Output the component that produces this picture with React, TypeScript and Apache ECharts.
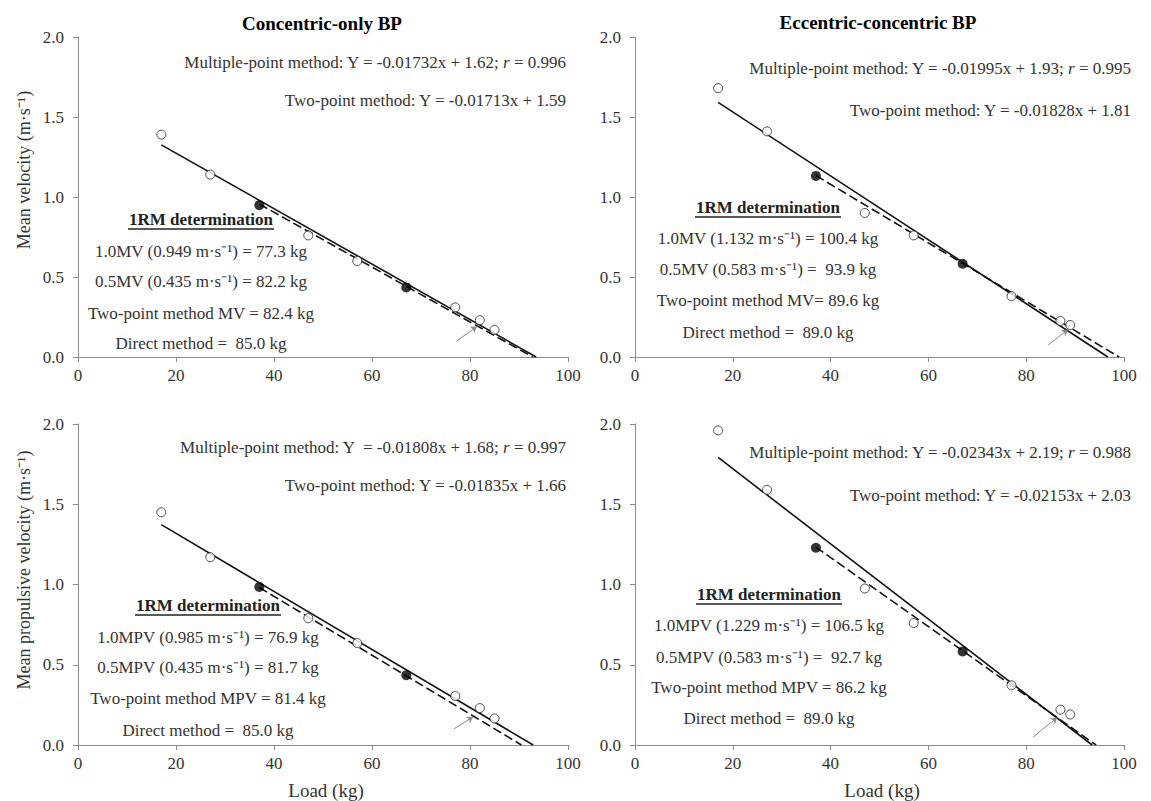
import React, { useEffect, useRef } from "react";
import * as echarts from "echarts";

// ---------- data ----------
const panelTitles = ["Concentric-only BP", "Eccentric-concentric BP"];
const yAxisNames = ["Mean velocity (m·s⁻¹)", "Mean propulsive velocity (m·s⁻¹)"];
const xAxisName = "Load (kg)";

// Concentric-only, mean velocity
const openTL = [[17, 1.39], [27, 1.14], [47, 0.76], [57, 0.6], [77, 0.31], [82, 0.23], [85, 0.17]];
const filledTL = [[37, 0.949], [67, 0.435]];
const fitTL = [[17, 1.326], [93.5, 0]];
const twoPtTL = [[37, 0.956], [92.8, 0]];
const arrowTL = [[77.3, 0.1], [81.4, 0.19]];

// Eccentric-concentric, mean velocity
const openTR = [[17, 1.68], [27, 1.41], [47, 0.9], [57, 0.76], [77, 0.38], [87, 0.225], [89, 0.2]];
const filledTR = [[37, 1.132], [67, 0.583]];
const fitTR = [[17, 1.591], [96.7, 0]];
const twoPtTR = [[37, 1.134], [99.0, 0]];
const arrowTR = [[84.5, 0.075], [88.5, 0.17]];

// Concentric-only, mean propulsive velocity
const openBL = [[17, 1.45], [27, 1.17], [47, 0.79], [57, 0.635], [77, 0.305], [82, 0.23], [85, 0.165]];
const filledBL = [[37, 0.985], [67, 0.435]];
const fitBL = [[17, 1.373], [92.9, 0]];
const twoPtBL = [[37, 0.981], [90.5, 0]];
const arrowBL = [[76.7, 0.1], [80.6, 0.175]];

// Eccentric-concentric, mean propulsive velocity
const openBR = [[17, 1.96], [27, 1.59], [47, 0.975], [57, 0.76], [77, 0.372], [87, 0.22], [89, 0.19]];
const filledBR = [[37, 1.229], [67, 0.583]];
const fitBR = [[17, 1.792], [93.5, 0]];
const twoPtBR = [[37, 1.233], [94.3, 0]];
const arrowBR = [[81.4, 0.05], [86.3, 0.17]];

// annotation texts
const multiEqs = [
  ["Multiple-point method: Y = -0.01732x + 1.62; ", "0.996"],
  ["Multiple-point method: Y = -0.01995x + 1.93; ", "0.995"],
  ["Multiple-point method: Y  = -0.01808x + 1.68; ", "0.997"],
  ["Multiple-point method: Y = -0.02343x + 2.19; ", "0.988"],
];
const twoEqs = [
  "Two-point method: Y = -0.01713x + 1.59",
  "Two-point method: Y = -0.01828x + 1.81",
  "Two-point method: Y = -0.01835x + 1.66",
  "Two-point method: Y = -0.02153x + 2.03",
];
const rmHeading = "1RM determination";
const rmLines = [
  ["1.0MV (0.949 m·s⁻¹) = 77.3 kg", "0.5MV (0.435 m·s⁻¹) = 82.2 kg", "Two-point method MV = 82.4 kg", "Direct method =  85.0 kg"],
  ["1.0MV (1.132 m·s⁻¹) = 100.4 kg", "0.5MV (0.583 m·s⁻¹) =  93.9 kg", "Two-point method MV= 89.6 kg", "Direct method =  89.0 kg"],
  ["1.0MPV (0.985 m·s⁻¹) = 76.9 kg", "0.5MPV (0.435 m·s⁻¹) = 81.7 kg", "Two-point method MPV = 81.4 kg", "Direct method =  85.0 kg"],
  ["1.0MPV (1.229 m·s⁻¹) = 106.5 kg", "0.5MPV (0.583 m·s⁻¹) =  92.7 kg", "Two-point method MPV = 86.2 kg", "Direct method =  89.0 kg"],
];

const panels = [
  { open: openTL, filled: filledTL, fit: fitTL, two: twoPtTL, arrow: arrowTL },
  { open: openTR, filled: filledTR, fit: fitTR, two: twoPtTR, arrow: arrowTR },
  { open: openBL, filled: filledBL, fit: fitBL, two: twoPtBL, arrow: arrowBL },
  { open: openBR, filled: filledBR, fit: fitBR, two: twoPtBR, arrow: arrowBR },
];

// ---------- layout ----------
const FONT = '"Liberation Serif", "Times New Roman", serif';
const TEXT = "#333333";
const AXIS = "#8c8c8c";
const FS = 17;

const GRIDS = [
  { left: 78, top: 37, width: 490, height: 320 },
  { left: 635, top: 37, width: 489, height: 320 },
  { left: 78, top: 424, width: 490, height: 321 },
  { left: 635, top: 424, width: 489, height: 321 },
];
const ANN = [
  { eqX: 566, multiY: 62, twoY: 100, cx: 201, headY: 219, lineYs: [251, 281, 313, 343] },
  { eqX: 1131, multiY: 68, twoY: 110, cx: 768, headY: 207, lineYs: [238, 269, 300, 332] },
  { eqX: 566, multiY: 447, twoY: 485, cx: 208, headY: 605, lineYs: [637, 667, 698, 730] },
  { eqX: 1131, multiY: 452, twoY: 495, cx: 769, headY: 594, lineYs: [625, 657, 687, 718] },
];

function txt(x: number, y: number, text: string, opts: any = {}) {
  const align = opts.align || "center";
  return {
    type: "text",
    x,
    y,
    rotation: opts.rotation || 0,
    silent: true,
    style: {
      text,
      fill: opts.fill || TEXT,
      fontFamily: FONT,
      fontSize: opts.fontSize || FS,
      fontWeight: opts.fontWeight || "normal",
      textAlign: align,
      align,
      textVerticalAlign: "middle",
      verticalAlign: "middle",
      rich: opts.rich,
    },
  };
}

export default function App() {
  const ref = useRef<HTMLDivElement>(null);
  useEffect(() => {
    if (!ref.current) return;
    const chart = echarts.init(ref.current, undefined, { renderer: "svg" });

    const xAxis = GRIDS.map((_, i) => ({
      type: "value",
      gridIndex: i,
      min: 0,
      max: 100,
      interval: 20,
      axisLine: { show: true, lineStyle: { color: AXIS, width: 1 } },
      axisTick: { show: true, length: 5, lineStyle: { color: AXIS } },
      axisLabel: { color: TEXT, fontSize: FS, fontFamily: FONT, margin: 10 },
      splitLine: { show: false },
    }));
    const yAxis = GRIDS.map((_, i) => ({
      type: "value",
      gridIndex: i,
      min: 0,
      max: 2,
      interval: 0.5,
      axisLine: { show: true, lineStyle: { color: AXIS, width: 1 } },
      axisTick: { show: true, length: 5, lineStyle: { color: AXIS } },
      axisLabel: {
        color: TEXT,
        fontSize: FS,
        fontFamily: FONT,
        margin: 14,
        formatter: (v: number) => v.toFixed(1),
      },
      splitLine: { show: false },
    }));

    const series: any[] = [];
    panels.forEach((p, i) => {
      series.push({
        type: "line",
        xAxisIndex: i,
        yAxisIndex: i,
        data: p.fit,
        symbol: "none",
        lineStyle: { color: "#111", width: 1.6 },
        z: 2,
      });
      series.push({
        type: "line",
        xAxisIndex: i,
        yAxisIndex: i,
        data: p.two,
        symbol: "none",
        lineStyle: { color: "#111", width: 1.6, type: [9, 4] },
        z: 2,
      });
      series.push({
        type: "lines",
        coordinateSystem: "cartesian2d",
        xAxisIndex: i,
        yAxisIndex: i,
        symbol: ["none", "arrow"],
        symbolSize: 6,
        lineStyle: { color: "#8a8a8a", width: 1, opacity: 1 },
        itemStyle: { color: "#222" },
        data: [{ coords: p.arrow }],
        z: 3,
      });
      series.push({
        type: "scatter",
        xAxisIndex: i,
        yAxisIndex: i,
        data: p.open,
        symbol: "circle",
        symbolSize: 9,
        itemStyle: { color: "#fff", borderColor: "#222", borderWidth: 1 },
        z: 4,
      });
      series.push({
        type: "scatter",
        xAxisIndex: i,
        yAxisIndex: i,
        data: p.filled,
        symbol: "circle",
        symbolSize: 10,
        itemStyle: { color: "#000" },
        z: 5,
      });
    });

    const graphic: any[] = [];
    graphic.push(txt(322, 23, panelTitles[0], { fontWeight: "bold", fill: "#000", fontSize: 19 }));
    graphic.push(txt(878, 22, panelTitles[1], { fontWeight: "bold", fill: "#000", fontSize: 19 }));
    graphic.push(txt(24, 170, yAxisNames[0], { rotation: Math.PI / 2, fontSize: 18 }));
    graphic.push(txt(24, 570, yAxisNames[1], { rotation: Math.PI / 2, fontSize: 18 }));
    graphic.push(txt(326, 790, xAxisName, { fontSize: 19 }));
    graphic.push(txt(882, 790, xAxisName, { fontSize: 19 }));

    ANN.forEach((a, i) => {
      const rich = {
        a: { fontFamily: FONT, fontSize: FS, fill: TEXT },
        i: { fontFamily: FONT, fontSize: FS, fill: TEXT, fontStyle: "italic" },
      };
      graphic.push(
        txt(a.eqX, a.multiY, `{a|${multiEqs[i][0]}}{i|r}{a| = ${multiEqs[i][1]}}`, { align: "right", rich })
      );
      graphic.push(txt(a.eqX, a.twoY, twoEqs[i], { align: "right" }));
      graphic.push(txt(a.cx, a.headY, rmHeading, { fontWeight: "bold", fill: "#222" }));
      graphic.push({
        type: "line",
        silent: true,
        shape: { x1: a.cx - 73, y1: a.headY + 10, x2: a.cx + 73, y2: a.headY + 10 },
        style: { stroke: "#222", lineWidth: 1.3 },
      });
      rmLines[i].forEach((s, k) => graphic.push(txt(a.cx, a.lineYs[k], s)));
    });

    chart.setOption({
      animation: false,
      backgroundColor: "#fff",
      grid: GRIDS,
      xAxis,
      yAxis,
      series,
      graphic,
    });
    return () => chart.dispose();
  }, []);
  return <div ref={ref} style={{ position: "fixed", left: 0, top: 0, width: 1151, height: 801 }} />;
}
